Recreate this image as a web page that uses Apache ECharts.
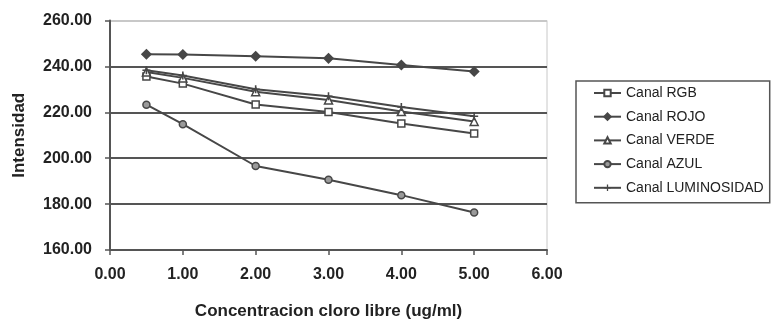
<!DOCTYPE html>
<html>
<head>
<meta charset="utf-8">
<script src="https://cdn.jsdelivr.net/npm/echarts@6/dist/echarts.min.js"></script>
<style>
html,body{margin:0;padding:0;background:#fff;}
#chart{width:772px;height:325px;}
</style>
</head>
<body>
<div id="chart"></div>
<script>
var concentracion = [0.5, 1, 2, 3, 4, 5];
var canalRGB = [235.6, 232.5, 223.4, 220.1, 215.1, 210.8];
var canalROJO = [245.3, 245.2, 244.4, 243.5, 240.6, 237.8];
var canalVERDE = [237.6, 235.0, 229.0, 225.4, 220.3, 216.0];
var canalAZUL = [223.3, 214.8, 196.6, 190.6, 183.9, 176.3];
var canalLUM = [238.3, 236.0, 230.0, 227.0, 222.3, 218.3];
var seriesNames = ['Canal RGB', 'Canal ROJO', 'Canal VERDE', 'Canal AZUL', 'Canal LUMINOSIDAD'];
var xTicks = [0, 1, 2, 3, 4, 5, 6];
var yTicks = [160, 180, 200, 220, 240, 260];

function pairs(vals) {
  return concentracion.map(function (x, i) { return [x, vals[i]]; });
}

var lineCol = '#474747';
var font = "'Liberation Sans', Arial, sans-serif";
var plusPath = 'path://M4,0h2v4h4v2h-4v4h-2v-4h-4v-2h4z';

function mk(name, vals, symbol, size, fill) {
  return {
    name: name,
    type: 'line',
    data: pairs(vals),
    symbol: symbol,
    symbolSize: size,
    showAllSymbol: true,
    lineStyle: { color: lineCol, width: 2 },
    itemStyle: { color: fill, borderColor: lineCol, borderWidth: symbol === plusPath ? 0 : 1.5 },
    emphasis: { disabled: true }
  };
}

var chart = echarts.init(document.getElementById('chart'), null, { renderer: 'canvas' });
chart.setOption({
  animation: false,
  backgroundColor: '#fff',
  textStyle: { fontFamily: font },
  grid: {
    left: 110, right: 225, top: 20.5, bottom: 64,
    show: true, borderColor: '#c8c8c8', borderWidth: 1, containLabel: false
  },
  legend: {
    orient: 'vertical',
    left: 576, top: 81,
    padding: [5, 6, 8, 17],
    itemWidth: 27, itemHeight: 8, itemGap: 9.7,
    borderColor: '#555', borderWidth: 1.5,
    backgroundColor: '#fff',
    data: seriesNames,
    textStyle: { fontSize: 14, color: '#222', fontFamily: font }
  },
  xAxis: {
    type: 'value',
    min: xTicks[0], max: xTicks[xTicks.length - 1], interval: 1,
    name: 'Concentracion cloro libre (ug/ml)',
    nameLocation: 'middle', nameGap: 53,
    nameTextStyle: { fontSize: 17, fontWeight: 'bold', color: '#222', fontFamily: font },
    axisLine: { show: true, lineStyle: { color: '#555', width: 2 } },
    axisTick: { show: true, inside: false, length: 5, lineStyle: { color: '#555', width: 1.5 } },
    axisLabel: {
      fontSize: 16, fontWeight: 'bold', color: '#222', margin: 17, fontFamily: font,
      formatter: function (v) { return v.toFixed(2); }
    },
    splitLine: { show: false }
  },
  yAxis: {
    type: 'value',
    min: yTicks[0], max: yTicks[yTicks.length - 1], interval: 20,
    name: 'Intensidad',
    nameLocation: 'middle', nameGap: 82, nameRotate: 90,
    nameTextStyle: { fontSize: 17, fontWeight: 'bold', color: '#222', fontFamily: font },
    axisLine: { show: true, lineStyle: { color: '#555', width: 2 } },
    axisTick: { show: true, inside: false, length: 5, lineStyle: { color: '#555', width: 1.5 } },
    axisLabel: {
      fontSize: 16, fontWeight: 'bold', color: '#222', margin: 18, fontFamily: font,
      formatter: function (v) { return v.toFixed(2); }
    },
    splitLine: {
      show: true,
      lineStyle: { color: ['#555', '#555', '#555', '#555', '#555', '#c8c8c8'], width: 2 }
    }
  },
  series: [
    mk(seriesNames[0], canalRGB, 'rect', 7, '#fff'),
    mk(seriesNames[1], canalROJO, 'diamond', 9, lineCol),
    mk(seriesNames[2], canalVERDE, 'triangle', 8, '#fff'),
    mk(seriesNames[3], canalAZUL, 'circle', 7, '#9a9a9a'),
    mk(seriesNames[4], canalLUM, plusPath, 8, lineCol)
  ]
});
</script>
</body>
</html>
